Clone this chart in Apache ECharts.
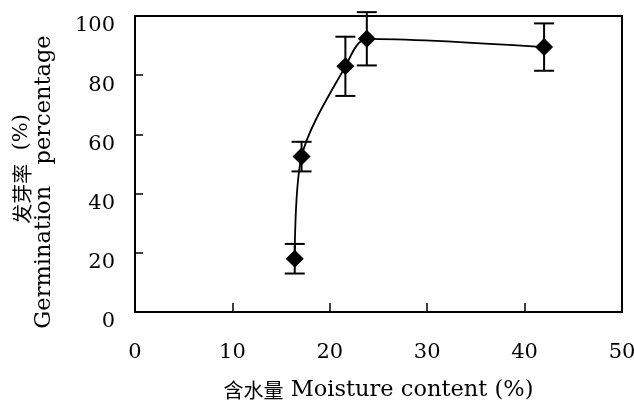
<!DOCTYPE html>
<html>
<head>
<meta charset="utf-8">
<script src="https://cdn.jsdelivr.net/npm/echarts@6/dist/echarts.min.js"></script>
<style>
html,body{margin:0;padding:0;background:#fff;}
#c{width:634px;height:404px;}
</style>
</head>
<body>
<div id="c"></div>
<script>
// Data
var moisture = [16.4, 17.1, 21.6, 23.8, 42.0];
var germination = [18, 52.5, 83, 92.3, 89.5];
var errorSize = [5, 5, 10, 9, 8];
var xTicks = [0, 10, 20, 30, 40, 50];
var yTicks = [0, 20, 40, 60, 80, 100];

var serif = '"DejaVu Serif", "Liberation Serif", serif';
var cjk = '"Noto Sans CJK SC", sans-serif';

var points = moisture.map(function (x, i) { return [x, germination[i]]; });
var bars = moisture.map(function (x, i) {
  return [x, germination[i] - errorSize[i], germination[i] + errorSize[i]];
});

var chart = echarts.init(document.getElementById('c'), null, {renderer: 'canvas'});
chart.setOption({
  animation: false,
  backgroundColor: '#fff',
  grid: {left: 135, right: 12, top: 16, bottom: 92, containLabel: false, outerBoundsMode: 'none',
         show: true, borderColor: '#000', borderWidth: 2, backgroundColor: 'transparent'},
  xAxis: {
    type: 'value', min: xTicks[0], max: xTicks[xTicks.length - 1], interval: 10,
    axisLine: {show: true, lineStyle: {color: '#000', width: 2}},
    axisTick: {show: true, inside: true, length: 9, lineStyle: {color: '#000', width: 1.5}},
    splitLine: {show: false},
    axisLabel: {color: '#000', fontFamily: serif, fontSize: 21, margin: 30},
    name: '{cn|含水量}{en| Moisture content (%)}',
    nameLocation: 'middle', nameGap: 67,
    nameTextStyle: {
      rich: {
        cn: {fontFamily: cjk, fontSize: 20, color: '#000'},
        en: {fontFamily: serif, fontSize: 22.5, color: '#000'}
      }
    }
  },
  yAxis: {
    type: 'value', min: yTicks[0], max: yTicks[yTicks.length - 1], interval: 20,
    axisLine: {show: true, lineStyle: {color: '#000', width: 2}},
    axisTick: {show: true, inside: true, length: 8, lineStyle: {color: '#000', width: 1.5}},
    splitLine: {show: false},
    axisLabel: {color: '#000', fontFamily: serif, fontSize: 21, margin: 20,
                verticalAlign: 'top', lineHeight: 20},
    name: '{cn|发芽率}{ens|  (%)}\n{en|Germination   percentage}',
    nameLocation: 'middle', nameGap: 80, nameRotate: 90,
    nameTextStyle: {
      lineHeight: 22,
      rich: {
        cn: {fontFamily: cjk, fontSize: 20, color: '#000', lineHeight: 22},
        ens: {fontFamily: serif, fontSize: 21, color: '#000', lineHeight: 22, padding: [0, 10, 0, 0]},
        en: {fontFamily: serif, fontSize: 22.5, color: '#000', lineHeight: 22, padding: [0, 36, 0, 0]}
      }
    }
  },
  series: [
    {
      type: 'custom',
      data: bars,
      clip: false,
      z: 2,
      renderItem: function (params, api) {
        var x = api.value(0);
        var lo = api.coord([x, api.value(1)]);
        var hi = api.coord([x, api.value(2)]);
        var hw = 10;
        var st = {stroke: '#000', lineWidth: 2};
        return {
          type: 'group',
          children: [
            {type: 'line', shape: {x1: lo[0], y1: lo[1], x2: hi[0], y2: hi[1]}, style: st},
            {type: 'line', shape: {x1: lo[0] - hw, y1: lo[1], x2: lo[0] + hw, y2: lo[1]}, style: st},
            {type: 'line', shape: {x1: hi[0] - hw, y1: hi[1], x2: hi[0] + hw, y2: hi[1]}, style: st}
          ]
        };
      }
    },
    {
      type: 'line',
      data: points,
      smooth: 0.3,
      z: 3,
      lineStyle: {color: '#000', width: 1.8},
      symbol: 'diamond',
      symbolSize: 18,
      itemStyle: {color: '#000'}
    }
  ]
});
</script>
</body>
</html>
